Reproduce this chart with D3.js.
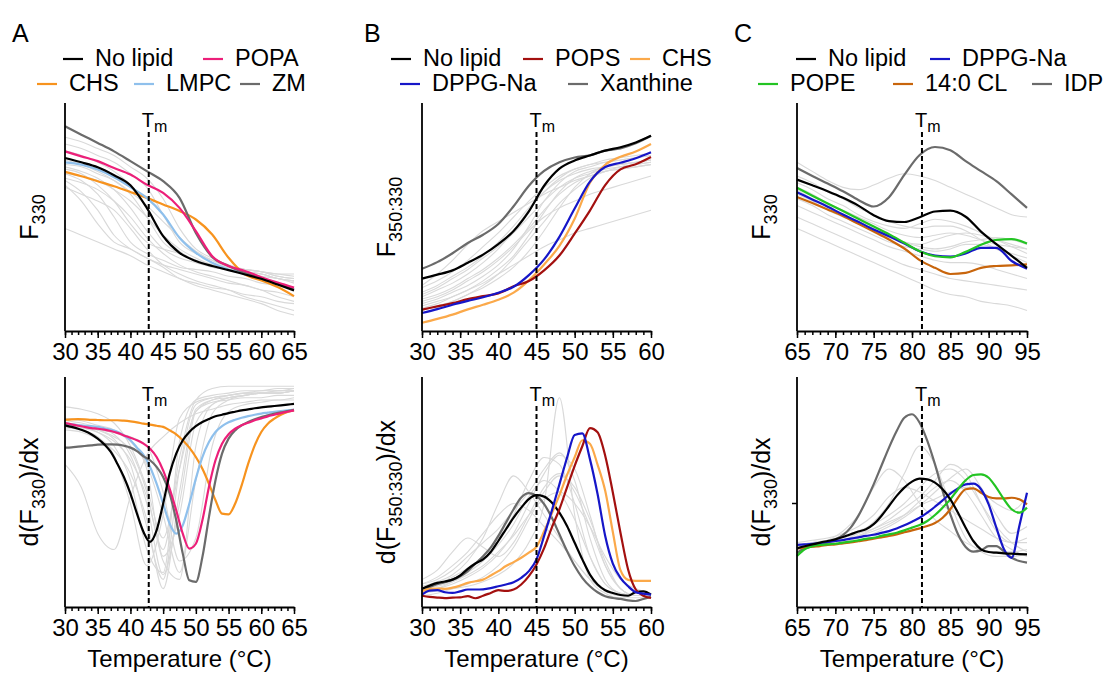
<!DOCTYPE html>
<html>
<head>
<meta charset="utf-8">
<script src="https://cdnjs.cloudflare.com/ajax/libs/d3/7.8.5/d3.min.js"></script>
<style>
    body { margin: 0; background: #fff; }
    svg { font-family: "Liberation Sans", Arial, Helvetica, sans-serif; }
</style>
</head>
<body>
<div id="chart"></div>
<script>
///////////////////////////////////////////////////////////////////////////
///////////////////////////////// Data ////////////////////////////////////
///////////////////////////////////////////////////////////////////////////

//temperature grids (°C) the traces were read at
var tempA = [30,32.5,35,37.5,40,42.5,45,47.5,50,52.5,55,57.5,60,62.5,65];
var tempAFine = [30,31,32,33,34,35,36,37,38,39,40,41,42,43,44,45,46,47,48,49,50,51,52,53,54,55,56,57,58,59,60,61,62,63,64,65];
var tempB = [30,32,34,36,38,40,42,44,46,48,50,52,54,56,58,60];
var tempBFine = [30,31,32,33,34,35,36,37,38,39,40,41,42,43,44,45,46,47,48,49,50,51,52,53,54,55,56,57,58,59,60];
var tempC = [65,67,69,71,73,75,77,79,81,83,85,87,89,91,93,95];
var tempCFine = [65,66,67,68,69,70,71,72,73,74,75,76,77,78,79,80,81,82,83,84,85,86,87,88,89,90,91,92,93,94,95];

//melting temperatures (dashed lines)
var tmA = 42.8, tmB = 45.0, tmC = 81.3;

//legends
var legendA = ["No lipid", "POPA", "CHS", "LMPC", "ZM"];
var legendB = ["No lipid", "POPS", "CHS", "DPPG-Na", "Xanthine"];
var legendC = ["No lipid", "DPPG-Na", "POPE", "14:0 CL", "IDP"];

//panel A, F330 (arbitrary units, 0-100)
var aTopNoLipid = [75.9,74.0,71.8,68.3,63.9,54.0,41.6,34.3,30.7,28.5,26.7,24.8,22.9,20.4,17.8];
var aTopPOPA = [78.8,76.6,74.5,71.5,68.6,64.2,60.6,54.0,43.8,32.8,28.5,26.3,23.6,21.2,19.0];
var aTopCHS = [69.8,67.9,65.7,63.5,61.0,58.4,55.5,52.6,48.9,42.3,32.1,24.8,22.2,19.3,15.3];
var aTopLMPC = [74.0,73.0,70.8,67.4,63.1,58.4,51.1,40.9,34.3,29.9,27.0,25.1,23.1,20.7,18.2];
var aTopZM = [89.8,86.1,82.5,78.8,74.5,70.1,65.7,58.4,43.0,32.5,28.5,25.5,23.1,20.7,18.2];
var aTopOthers = [
    [85,83,80,77,72,67,58,45,36,32,29,27,26,24,23],
    [82,80,77,74,69,63,51,39,34,31,28,27,26,24,23],
    [79,77,74,70,64,54,42,35,31,29,28,26,25,23,22],
    [75,73,70,66,60,50,39,34,31,28,27,26,24,23,21],
    [72,70,67,62,54,44,36,32,30,28,27,26,25,23,22],
    [71,69,64,57,47,39,36,34,31,29,28,26,25,23,22],
    [69,66,60,50,39,34,31,28,27,26,24,23,21,20,19],
    [66,61,53,42,36,32,29,27,25,23,21,20,18,17,15],
    [64,57,47,39,36,32,28,23,21,19,18,16,15,13,12],
    [67,65,62,57,50,41,34,29,26,24,22,20,18,15,13],
    [45,42,39,36,33,29,26,23,20,18,16,14,12,9,7],
    [63,60,57,53,45,36,29,25,22,20,18,15,13,11,9],
    [69,68,66,62,57,50,42,36,32,29,28,27,26,25,24],
    [73,72,69,66,61,55,48,41,35,31,28,27,26,25,25]
];

//panel A, d(F330)/dx
var aBotNoLipid = [79.0,78.3,77.5,76.5,75.1,73.2,70.7,67.4,62.3,56.5,49.3,40.6,32.6,28.3,33.3,44.9,58.0,66.7,72.5,76.1,78.6,80.4,81.7,82.9,83.6,84.3,84.9,85.5,85.9,86.4,86.8,87.1,87.4,87.7,88.0,88.3];
var aBotPOPA = [80.0,79.4,78.8,78.3,77.8,77.5,77.1,76.5,75.7,74.6,73.6,72.5,71.0,68.8,65.2,59.4,51.4,42.0,31.9,25.4,27.5,37.7,52.2,63.8,71.0,75.1,77.5,79.0,80.1,81.2,82.0,82.9,83.6,84.3,84.9,85.5];
var aBotCHS = [81.4,81.6,81.7,81.6,81.4,81.3,81.2,81.2,81.2,81.0,80.7,80.3,79.7,79.3,78.8,78.3,76.8,75.1,72.5,69.3,65.2,60.1,53.6,46.4,40.6,40.3,44.9,52.9,62.3,70.3,76.1,79.7,81.9,83.6,84.8,85.5];
var aBotLMPC = [79.7,79.4,79.1,78.8,78.6,78.3,77.7,77.1,76.2,74.6,72.5,69.3,66.1,60.9,53.6,44.9,36.2,31.9,35.5,44.9,55.8,65.2,71.7,76.1,78.6,80.3,81.4,82.3,83.0,83.6,84.1,84.5,84.9,85.2,85.5,85.8];
var aBotZM = [69.3,69.4,69.7,70.0,70.3,70.6,70.7,70.7,70.6,70.1,69.3,67.8,65.5,63.8,60.9,56.5,49.3,37.7,23.2,11.6,10.9,21.7,39.1,55.1,66.7,73.2,76.8,79.0,80.4,81.6,82.6,83.3,84.1,84.6,85.2,85.7];
var aBotOthers = [
    [80,79,77,73,62,35,12,60,88,91,92,93,94,94,95],
    [79,78,76,70,55,25,15,72,90,92,93,94,94,95,95],
    [81,80,78,75,66,45,14,45,85,90,92,93,93,94,94],
    [78,77,74,66,45,18,40,82,89,91,92,93,93,94,94],
    [80,79,77,74,68,50,20,12,70,88,91,92,93,93,94],
    [77,76,73,68,58,38,8,50,86,90,91,92,93,93,94],
    [87,86,84,80,70,52,30,60,85,89,90,91,91,92,92],
    [62,52,32,25,48,66,74,80,84,86,88,89,90,90,91],
    [80,79,78,76,72,62,40,15,55,84,90,92,93,93,94],
    [82,81,79,77,72,60,22,40,80,88,91,92,93,93,94],
    [78,78,77,76,74,70,50,20,30,70,85,88,89,90,90],
    [79,78,76,72,64,48,25,65,90,95,96,96,96,96,96]
];

//panel B, F350:330
var bTopNoLipid = [23.0,24.7,26.6,29.9,33.5,38.1,43.9,52.5,63.7,71.2,74.8,77.0,79.1,80.6,82.7,85.6];
var bTopPOPS = [9.4,10.8,12.2,14.0,15.3,16.5,19.6,21.9,26.6,33.1,42.7,52.8,64.0,70.9,73.1,76.3];
var bTopCHS = [3.6,5.3,7.2,9.5,11.5,13.7,16.8,22.2,29.2,37.3,49.2,65.0,72.9,76.4,78.7,82.0];
var bTopDPPG = [7.9,9.6,11.5,13.2,14.8,16.8,19.4,24.5,31.4,41.3,53.7,65.5,71.9,73.8,75.8,78.4];
var bTopXanthine = [27.3,30.2,34.1,38.6,42.2,46.9,54.7,63.7,70.2,74.0,76.1,77.1,79.1,80.1,82.3,85.6];
var bTopOthers = [
    [20,25,31,38,44,48,52,56,60,63,66,68,70,71,72,73],
    [15,18,21,25,30,36,44,53,61,67,71,73,75,76,77,78],
    [12,14,17,20,24,29,36,46,57,65,70,72,74,75,76,77],
    [10,12,15,18,22,27,33,42,52,61,67,70,72,73,74,75],
    [14,16,19,23,27,32,38,45,53,60,65,68,70,71,72,73],
    [17,20,24,28,33,39,46,54,61,66,69,71,72,73,74,75],
    [8,10,13,16,20,25,32,40,48,56,62,67,70,72,73,74],
    [13,15,18,22,26,31,37,44,50,54,57,60,62,64,66,68],
    [11,13,15,18,21,25,29,33,37,40,43,45,47,49,51,53],
    [19,22,26,31,37,43,50,57,63,68,71,73,74,75,76,77],
    [9,11,13,16,19,23,28,35,44,54,63,69,72,73,74,75],
    [16,19,23,27,32,37,43,50,57,63,67,69,71,72,73,74]
];

//panel B, d(F350:330)/dx
var bBotNoLipid = [7.9,9.3,10.5,11.1,11.9,13.7,16.6,18.9,20.7,23.9,28.7,33.8,38.9,43.2,46.9,48.6,48.0,45.4,41.0,35.2,27.9,20.7,14.1,9.8,7.3,6.1,5.2,4.9,6.5,6.8,5.4];
var bBotPOPS = [4.9,4.4,4.1,3.9,4.1,4.2,4.7,3.8,4.9,6.1,7.3,7.0,7.6,9.8,13.4,18.5,25.6,34.5,42.5,52.0,61.4,69.9,77.8,76.0,65.8,49.8,32.3,16.3,7.6,4.9,3.9];
var bBotCHS = [6.8,7.9,8.0,7.9,8.4,9.3,10.5,11.2,11.9,13.7,15.6,17.8,19.5,21.4,23.6,26.2,32.9,40.6,48.6,57.4,65.1,72.5,71.0,61.9,50.5,32.6,16.0,11.8,11.4,11.4,11.4];
var bBotDPPG = [5.4,7.1,7.3,6.4,6.1,6.8,7.6,7.6,7.7,8.2,9.0,9.8,10.8,12.7,15.6,20.7,30.9,41.8,53.3,64.9,74.8,75.5,64.3,49.1,30.9,18.9,12.7,9.0,6.4,5.8,5.4];
var bBotXanthine = [7.6,8.7,9.9,10.8,11.9,13.4,15.6,18.9,22.1,25.8,30.9,36.7,42.5,47.6,49.5,48.3,44.7,38.9,31.6,24.3,17.8,12.7,9.0,6.4,4.7,3.9,3.5,2.9,2.6,3.5,4.4];
var bBotOthers = [
    [6,7,8,9,11,14,19,28,45,91,40,12,6,4,4,4],
    [10,12,16,22,28,34,42,50,60,67,55,30,12,6,5,5],
    [8,10,13,17,22,30,40,55,65,62,45,22,10,6,5,5],
    [12,16,24,30,26,22,28,40,52,58,50,35,18,8,5,5],
    [9,11,14,20,30,45,57,50,40,30,20,12,7,5,5,5],
    [7,8,10,13,17,23,32,45,58,66,60,40,18,8,5,5],
    [6,8,11,15,20,27,36,48,55,50,38,22,10,6,5,6],
    [10,13,18,24,32,40,45,42,35,28,20,12,7,5,5,5],
    [5,6,8,10,13,18,26,38,50,57,52,38,20,8,5,5],
    [8,9,11,14,18,24,31,40,47,50,45,35,22,12,8,6]
];

//panel C, F330
var cTopNoLipid = [66.4,63.9,61.3,58.4,55.0,50.8,48.2,47.8,49.9,52.4,52.8,50.1,43.6,38.1,33.0,27.7];
var cTopDPPG = [60.9,57.7,54.5,51.1,47.9,44.5,41.6,38.4,35.0,33.1,32.6,34.0,36.5,36.5,30.7,27.3];
var cTopPOPE = [62.8,59.3,55.9,52.6,49.2,45.8,42.5,38.7,35.0,32.8,32.3,34.7,37.8,40.0,40.3,38.4];
var cTopCL = [58.8,56.1,53.3,50.4,47.0,43.6,40.1,36.2,31.1,27.7,25.0,25.5,27.7,28.5,28.8,29.2];
var cTopIDP = [71.5,68.0,64.7,61.3,57.5,54.6,58.7,68.5,77.2,80.7,79.3,74.5,70.1,65.7,59.9,54.0];
var cTopOthers = [
    [74,70,66,63,62,64,67,69,68,66,63,60,57,54,51,50],
    [68,65,61,58,54,51,48,46,45,46,46,44,40,36,33,30],
    [63,60,56,53,50,47,44,42,41,42,43,42,40,38,37,36],
    [60,57,53,50,47,44,41,39,38,40,42,43,42,40,38,36],
    [58,55,51,48,45,42,39,37,36,35,36,38,38,36,34,32],
    [55,52,49,46,43,40,37,35,33,31,30,30,29,27,25,23],
    [50,47,44,41,38,35,32,29,27,25,23,22,21,20,19,18],
    [45,42,39,36,33,30,27,24,21,18,16,15,13,12,11,9],
    [65,62,58,55,51,48,46,45,47,49,48,46,43,40,37,34],
    [62,58,55,51,48,45,42,39,37,36,37,39,40,41,40,38]
];

//panel C, d(F330)/dx
var cBotNoLipid = [25.5,26.4,27.2,28.0,28.7,29.4,30.4,31.6,32.8,33.8,36.0,39.6,43.9,48.3,51.9,54.5,55.8,55.5,54.1,51.2,46.8,41.0,34.5,28.7,25.1,23.9,23.6,23.3,23.2,23.0,22.9];
var cBotDPPG = [27.0,27.2,27.5,27.8,28.3,28.7,29.1,29.7,30.3,30.9,31.4,32.2,33.0,34.1,35.5,37.1,38.8,41.0,43.6,46.4,49.3,51.6,53.3,53.6,51.2,44.6,34.5,25.1,21.4,35.2,49.7];
var cBotPOPE = [22.2,25.1,26.4,27.0,27.2,27.5,28.0,28.4,29.0,29.6,30.1,30.9,31.6,32.3,33.3,34.5,35.7,37.4,40.0,43.2,46.8,51.2,55.1,57.4,57.7,56.2,51.9,46.8,42.5,41.0,43.2];
var cBotCL = [25.5,25.8,26.2,26.5,27.0,27.2,27.7,28.1,28.6,29.1,29.7,30.3,30.9,31.6,32.5,33.3,34.2,35.2,36.5,38.8,42.5,47.5,51.2,51.6,49.7,47.8,47.2,47.2,47.5,46.8,44.6];
var cBotIDP = [23.6,25.5,26.5,27.2,28.0,29.4,31.3,34.5,39.6,46.1,53.3,61.3,69.3,76.5,82.3,83.8,80.1,72.2,62.0,50.4,40.3,31.6,26.1,24.1,24.6,26.5,26.5,24.1,21.4,20.0,19.3];
var cBotOthers = [
    [26,27,29,33,40,52,60,55,45,38,33,28,25,24,24,25],
    [25,26,27,29,32,37,45,58,70,62,45,30,24,22,22,23],
    [27,28,29,31,33,36,40,45,52,58,60,55,45,35,28,24],
    [26,27,28,29,31,34,38,43,48,55,62,58,45,33,28,30],
    [28,29,30,32,35,40,48,52,50,46,42,38,34,30,28,28],
    [25,26,27,28,30,32,35,39,44,50,56,60,52,40,32,35],
    [27,28,29,30,32,34,37,40,44,47,50,52,50,45,42,48],
    [26,27,28,29,31,33,36,40,46,52,55,50,40,30,25,22]
];
var cBotTick = 45; //the single y tick of panel C bottom

///////////////////////////////////////////////////////////////////////////
//////////////////////////////// Colours //////////////////////////////////
///////////////////////////////////////////////////////////////////////////

var colorsA = {"No lipid": "#000000", "POPA": "#ec1f79", "CHS": "#f7931e", "LMPC": "#8fc0ec", "ZM": "#6b6b6b"};
var colorsB = {"No lipid": "#000000", "POPS": "#a3100f", "CHS": "#fba94a", "DPPG-Na": "#1616c8", "Xanthine": "#6b6b6b"};
var colorsC = {"No lipid": "#000000", "DPPG-Na": "#1616c8", "POPE": "#23c423", "14:0 CL": "#c8650c", "IDP": "#6b6b6b"};
var otherColor = "#d9d9d9";

///////////////////////////////////////////////////////////////////////////
/////////////////////////////// Layout ////////////////////////////////////
///////////////////////////////////////////////////////////////////////////

var width = 1104, height = 673;
var topRow = [103, 331], botRow = [377, 607];

var svg = d3.select("#chart")
    .append("svg")
    .attr("width", width)
    .attr("height", height);

var panels = [
    {x: [65, 294], y: topRow, domain: [30, 65], tm: tmA, colors: colorsA, sub: "330", deriv: false,
     others: aTopOthers, otherT: tempA,
     series: [["CHS", tempA, aTopCHS], ["LMPC", tempA, aTopLMPC], ["ZM", tempA, aTopZM], ["POPA", tempA, aTopPOPA], ["No lipid", tempA, aTopNoLipid]]},
    {x: [65, 294], y: botRow, domain: [30, 65], tm: tmA, colors: colorsA, sub: "330", deriv: true,
     others: aBotOthers, otherT: tempA,
     series: [["CHS", tempAFine, aBotCHS], ["LMPC", tempAFine, aBotLMPC], ["ZM", tempAFine, aBotZM], ["POPA", tempAFine, aBotPOPA], ["No lipid", tempAFine, aBotNoLipid]]},
    {x: [422, 651], y: topRow, domain: [30, 60], tm: tmB, colors: colorsB, sub: "350:330", deriv: false,
     others: bTopOthers, otherT: tempB,
     series: [["Xanthine", tempB, bTopXanthine], ["No lipid", tempB, bTopNoLipid], ["CHS", tempB, bTopCHS], ["POPS", tempB, bTopPOPS], ["DPPG-Na", tempB, bTopDPPG]]},
    {x: [422, 651], y: botRow, domain: [30, 60], tm: tmB, colors: colorsB, sub: "350:330", deriv: true,
     others: bBotOthers, otherT: tempB,
     series: [["Xanthine", tempBFine, bBotXanthine], ["No lipid", tempBFine, bBotNoLipid], ["CHS", tempBFine, bBotCHS], ["POPS", tempBFine, bBotPOPS], ["DPPG-Na", tempBFine, bBotDPPG]]},
    {x: [797, 1027], y: topRow, domain: [65, 95], tm: tmC, colors: colorsC, sub: "330", deriv: false,
     others: cTopOthers, otherT: tempC,
     series: [["IDP", tempC, cTopIDP], ["14:0 CL", tempC, cTopCL], ["DPPG-Na", tempC, cTopDPPG], ["POPE", tempC, cTopPOPE], ["No lipid", tempC, cTopNoLipid]]},
    {x: [797, 1027], y: botRow, domain: [65, 95], tm: tmC, colors: colorsC, sub: "330", deriv: true, yTick: cBotTick,
     others: cBotOthers, otherT: tempC,
     series: [["IDP", tempCFine, cBotIDP], ["14:0 CL", tempCFine, cBotCL], ["DPPG-Na", tempCFine, cBotDPPG], ["POPE", tempCFine, cBotPOPE], ["No lipid", tempCFine, cBotNoLipid]]}
];

panels.forEach(function(p) { drawPanel(p); });

///////////////////////////////////////////////////////////////////////////
/////////////////////////////// Panels ////////////////////////////////////
///////////////////////////////////////////////////////////////////////////

function drawPanel(p) {
    var x = d3.scaleLinear().domain(p.domain).range(p.x);
    var y = d3.scaleLinear().domain([0, 100]).range([p.y[1], p.y[0]]);
    var g = svg.append("g");

    function lineFor(temps) {
        return d3.line()
            .x(function(d, i) { return x(temps[i]); })
            .y(function(d) { return y(d); })
            .curve(d3.curveMonotoneX);
    }

    //light grey traces of all the other compounds
    g.selectAll(".other")
        .data(p.others)
        .enter().append("path")
        .attr("class", "other")
        .attr("d", function(d) { return lineFor(p.otherT)(d); })
        .style("fill", "none")
        .style("stroke", otherColor)
        .style("stroke-width", 1.1);

    //highlighted traces
    g.selectAll(".trace")
        .data(p.series)
        .enter().append("path")
        .attr("class", "trace")
        .attr("d", function(s) { return lineFor(s[1])(s[2]); })
        .style("fill", "none")
        .style("stroke", function(s) { return p.colors[s[0]]; })
        .style("stroke-width", 2.2)
        .style("stroke-linejoin", "round");

    //Tm dashed line and label
    var xt = x(p.tm);
    g.append("line")
        .attr("x1", xt).attr("x2", xt)
        .attr("y1", p.y[0] + 29).attr("y2", p.y[1])
        .style("stroke", "#000")
        .style("stroke-width", 2)
        .style("stroke-dasharray", "5,3");
    var tm = g.append("text")
        .attr("x", xt - 7)
        .attr("y", p.y[0] + 24)
        .style("font-size", "20px")
        .text("T");
    tm.append("tspan")
        .attr("dy", 5)
        .style("font-size", "16px")
        .text("m");

    //x axis with minor ticks every degree
    var minorTicks = d3.range(p.domain[0], p.domain[1] + 1, 1);
    var majorTicks = d3.range(p.domain[0], p.domain[1] + 1, 5);
    var minor = g.append("g")
        .attr("transform", "translate(0," + p.y[1] + ")")
        .call(d3.axisBottom(x).tickValues(minorTicks).tickSize(4).tickFormat(""));
    minor.select(".domain").remove();
    minor.selectAll("line").style("stroke-width", 1.5);

    var xAxis = g.append("g")
        .attr("transform", "translate(0," + p.y[1] + ")")
        .call(d3.axisBottom(x).tickValues(majorTicks).tickSize(7).tickSizeOuter(0).tickPadding(5).tickFormat(d3.format("d")));
    xAxis.select(".domain").style("stroke-width", 1.8);
    xAxis.selectAll("line").style("stroke-width", 1.5);
    xAxis.selectAll("text")
        .style("font-size", "24px")
        .style("font-family", "'Liberation Sans', Arial, sans-serif")
        .style("fill", "#000");

    //y axis, no tick labels
    g.append("line")
        .attr("x1", p.x[0]).attr("x2", p.x[0])
        .attr("y1", p.y[0]).attr("y2", p.y[1])
        .style("stroke", "#000")
        .style("stroke-width", 1.8);
    if (p.yTick !== undefined) {
        g.append("line")
            .attr("x1", p.x[0] - 5).attr("x2", p.x[0])
            .attr("y1", y(p.yTick)).attr("y2", y(p.yTick))
            .style("stroke", "#000")
            .style("stroke-width", 1.5);
    }

    //y label with subscript
    var cy = (p.y[0] + p.y[1]) / 2;
    var yl = g.append("text")
        .attr("transform", "translate(" + (p.x[0] - 27) + "," + cy + ") rotate(-90)")
        .attr("text-anchor", "middle")
        .style("font-size", "25px");
    yl.append("tspan").text(p.deriv ? "d(F" : "F");
    yl.append("tspan").attr("dy", 7).style("font-size", "18px").text(p.sub);
    if (p.deriv) yl.append("tspan").attr("dy", -7).text(")/dx");

    //x label on the lower row only
    if (p.deriv) {
        g.append("text")
            .attr("x", (p.x[0] + p.x[1]) / 2)
            .attr("y", 667)
            .attr("text-anchor", "middle")
            .style("font-size", "24px")
            .text("Temperature (°C)");
    }
}

///////////////////////////////////////////////////////////////////////////
/////////////////////////// Letters and legends ///////////////////////////
///////////////////////////////////////////////////////////////////////////

var letters = [["A", 12], ["B", 364], ["C", 734]];
svg.selectAll(".letter")
    .data(letters)
    .enter().append("text")
    .attr("class", "letter")
    .attr("x", function(d) { return d[1]; })
    .attr("y", 42)
    .style("font-size", "25px")
    .text(function(d) { return d[0]; });

//line start x and row for each legend entry, same order as the legend arrays
var legendSpots = [
    {names: legendA, colors: colorsA, pos: [[63, 0], [203, 0], [37, 1], [134, 1], [240, 1]]},
    {names: legendB, colors: colorsB, pos: [[391, 0], [523, 0], [630, 0], [400, 1], [568, 1]]},
    {names: legendC, colors: colorsC, pos: [[796, 0], [930, 0], [758, 1], [893, 1], [1032, 1]]}
];
var rowLine = [59, 84], rowText = [66, 91];

legendSpots.forEach(function(L) {
    var items = L.names.map(function(n, i) { return {name: n, x: L.pos[i][0], row: L.pos[i][1]}; });
    var leg = svg.append("g").selectAll("g")
        .data(items)
        .enter().append("g");
    leg.append("line")
        .attr("x1", function(d) { return d.x; })
        .attr("x2", function(d) { return d.x + 20; })
        .attr("y1", function(d) { return rowLine[d.row]; })
        .attr("y2", function(d) { return rowLine[d.row]; })
        .style("stroke", function(d) { return L.colors[d.name]; })
        .style("stroke-width", 2.2);
    leg.append("text")
        .attr("x", function(d) { return d.x + 32; })
        .attr("y", function(d) { return rowText[d.row]; })
        .style("font-size", "23.5px")
        .text(function(d) { return d.name; });
});
</script>
</body>
</html>
